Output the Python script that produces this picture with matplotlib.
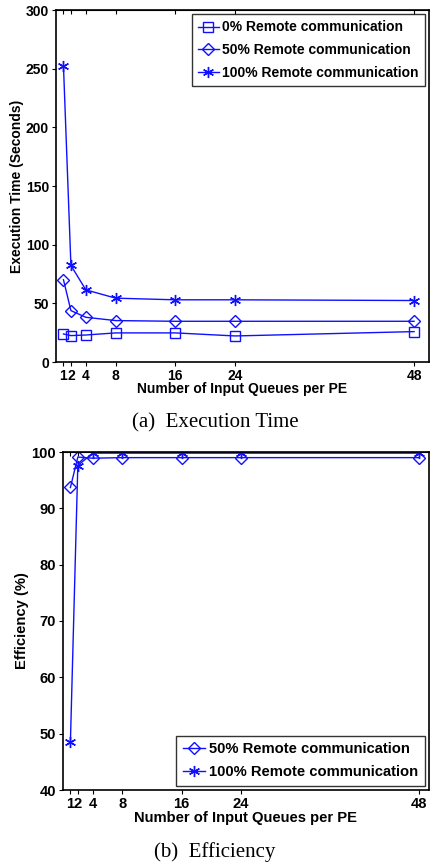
import numpy as np
import matplotlib
matplotlib.use("Agg")
import matplotlib.pyplot as plt

plt.rcParams['font.family'] = ['Liberation Sans', 'DejaVu Sans']
plt.rcParams['font.weight'] = 'bold'

# Data
queues = [1, 2, 4, 8, 16, 24, 48]
xtick_labels = ['1', '2', '4', '8', '16', '24', '48']

time_0 = [23.9, 22.5, 23.0, 24.8, 24.8, 22.2, 25.9]
time_50 = [70.1, 43.8, 38.1, 35.3, 34.7, 34.7, 34.7]
time_100 = [252.5, 82.3, 61.5, 54.4, 53.0, 53.0, 52.4]

eff_50 = [93.7, 99.1, 98.9, 99.0, 99.0, 99.0, 99.0]
eff_100 = [48.5, 97.6, 99.8, 99.8, 99.8, 99.8, 99.8]

blue = '#1010ff'
asterisk = (6, 2, 0)

fig = plt.figure(figsize=(4.3, 8.67), dpi=100)
ax1 = fig.add_axes([56 / 430, 1 - 362 / 867, 373 / 430, 352 / 867])
ax2 = fig.add_axes([63 / 430, 1 - 790 / 867, 366 / 430, 338 / 867])


def style(ax, fs):
    ax.set_xticks(queues)
    ax.set_xticklabels(xtick_labels)
    ax.tick_params(axis='both', direction='out', length=3, width=0.8,
                   labelsize=fs, pad=2)
    for s in ax.spines.values():
        s.set_linewidth(1.2)
    top = ax.secondary_xaxis('top')
    top.set_xticks(queues)
    top.set_xticklabels([])
    top.tick_params(direction='in', length=3, width=0.8)
    for lab in ax.get_xticklabels() + ax.get_yticklabels():
        lab.set_fontweight('bold')


def legend(ax, loc, spacing, fs):
    leg = ax.legend(loc=loc, fontsize=fs, frameon=True, fancybox=False,
                    edgecolor='black', handlelength=1.5, handletextpad=0.25,
                    borderaxespad=0.3, labelspacing=spacing, borderpad=0.45)
    leg.get_frame().set_linewidth(1.0)
    for t in leg.get_texts():
        t.set_fontweight('bold')


mk = dict(color=blue, lw=1.0, markerfacecolor='none', markeredgecolor=blue,
          markeredgewidth=1.0)

# (a) execution time
ax1.plot(queues, time_0, marker='s', ms=7, label='0% Remote communication', **mk)
ax1.plot(queues, time_50, marker='D', ms=6.5, label='50% Remote communication', **mk)
ax1.plot(queues, time_100, marker=asterisk, ms=8, label='100% Remote communication', **mk)
ax1.set_xlim(0, 50)
ax1.set_ylim(0, 300)
ax1.set_yticks(np.arange(0, 301, 50))
style(ax1, 10)
ax1.set_xlabel('Number of Input Queues per PE', fontsize=10, fontweight='bold')
ax1.set_ylabel('Execution Time (Seconds)', fontsize=10, fontweight='bold')
ax1.xaxis.set_label_coords(0.5, -0.057)
ax1.yaxis.set_label_coords(-0.086, 0.5)
legend(ax1, 'upper right', 0.62, 10)

# (b) efficiency
ax2.plot(queues, eff_50, marker='D', ms=6.5, label='50% Remote communication', **mk)
ax2.plot(queues, eff_100, marker=asterisk, ms=8, label='100% Remote communication', **mk)
ax2.set_xlim(0, 49.4)
ax2.set_ylim(40, 100)
ax2.set_yticks(np.arange(40, 101, 10))
style(ax2, 10.6)
ax2.set_xlabel('Number of Input Queues per PE', fontsize=10.6, fontweight='bold')
ax2.set_ylabel('Efficiency (%)', fontsize=10.6, fontweight='bold')
ax2.xaxis.set_label_coords(0.5, -0.063)
ax2.yaxis.set_label_coords(-0.093, 0.5)
legend(ax2, 'lower right', 0.6, 10.6)

# captions
fig.text(0.5, 1 - 423 / 867, '(a)  Execution Time', ha='center', va='center',
         family=['Liberation Serif'], fontweight='normal', fontsize=15)
fig.text(0.5, 1 - 852 / 867, '(b)  Efficiency', ha='center', va='center',
         family=['Liberation Serif'], fontweight='normal', fontsize=15)

fig.savefig('out.png', dpi=100)
